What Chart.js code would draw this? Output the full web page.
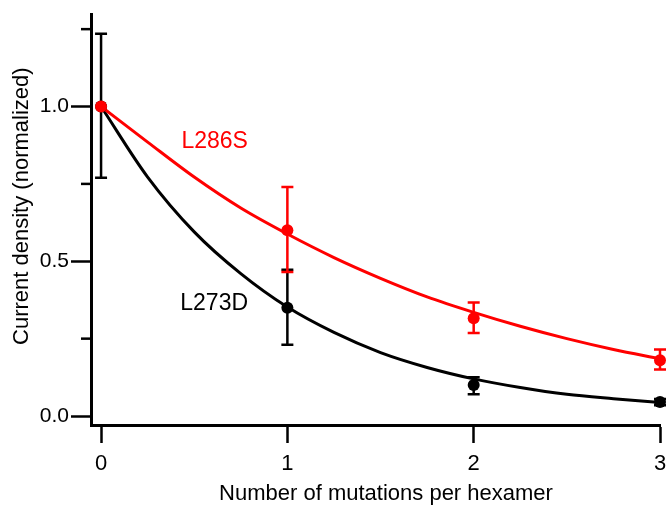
<!DOCTYPE html>
<html>
<head>
<meta charset="utf-8">
<script src="https://cdn.jsdelivr.net/npm/chart.js@4.4.1/dist/chart.umd.min.js"></script>
<style>
  html, body { margin: 0; padding: 0; background: #fff; overflow: hidden; }
</style>
</head>
<body>
<canvas id="chart" width="690" height="508"></canvas>
<script>
const mutations = [0, 1, 2, 3];
const l273dMean = [1.0, 0.35, 0.10, 0.045];
const l273dLow = [0.77, 0.23, 0.07, 0.035];
const l273dHigh = [1.235, 0.473, 0.125, 0.055];
const l286sMean = [1.0, 0.60, 0.316, 0.18];
const l286sLow = [1.0, 0.465, 0.268, 0.15];
const l286sHigh = [1.0, 0.74, 0.367, 0.215];

// fitted curves
const fitX = [0, 0.25, 0.5, 0.75, 1, 1.25, 1.5, 1.75, 2, 2.25, 2.5, 2.75, 3];
const l273dFit = [1, 0.772, 0.595, 0.46, 0.352, 0.27, 0.205, 0.157, 0.12, 0.092, 0.07, 0.056, 0.044];
const l286sFit = [1, 0.885, 0.772, 0.672, 0.588, 0.512, 0.445, 0.385, 0.335, 0.29, 0.25, 0.215, 0.185];

const xTicks = [0, 1, 2, 3];
const yMajorTicks = [0, 0.5, 1.0];
const yMinorTicks = [0.25, 0.75, 1.25];

const RED = '#ff0000';
const BLACK = '#000000';
const FONT = "'Liberation Sans', Arial, Helvetica, sans-serif";

function toPoints(xs, ys) {
  return xs.map((x, i) => ({ x: x, y: ys[i] }));
}

const extras = {
  id: 'extras',
  beforeDatasetsDraw(chart) {
    const { ctx, scales: { x, y } } = chart;
    ctx.save();
    ctx.lineWidth = 2.5;
    const bars = [
      { color: BLACK, low: l273dLow, high: l273dHigh },
      { color: RED, low: l286sLow, high: l286sHigh }
    ];
    for (const b of bars) {
      ctx.strokeStyle = b.color;
      mutations.forEach((m, i) => {
        if (b.high[i] - b.low[i] < 0.001) return;
        const px = x.getPixelForValue(m);
        const top = y.getPixelForValue(b.high[i]);
        const bot = y.getPixelForValue(b.low[i]);
        ctx.beginPath();
        ctx.moveTo(px, top); ctx.lineTo(px, bot);
        ctx.moveTo(px - 6, top); ctx.lineTo(px + 6, top);
        ctx.moveTo(px - 6, bot); ctx.lineTo(px + 6, bot);
        ctx.stroke();
      });
    }
    ctx.restore();
  },
  afterDraw(chart) {
    const { ctx, scales: { x, y } } = chart;
    ctx.save();
    // minor ticks on the y axis
    ctx.strokeStyle = BLACK;
    ctx.lineWidth = 2.5;
    for (const v of yMinorTicks) {
      const py = y.getPixelForValue(v);
      ctx.beginPath();
      ctx.moveTo(chart.chartArea.left - 10, py);
      ctx.lineTo(chart.chartArea.left, py);
      ctx.stroke();
    }
    ctx.textAlign = 'center';
    ctx.textBaseline = 'middle';
    ctx.font = '23px ' + FONT;
    ctx.fillStyle = RED;
    ctx.fillText('L286S', x.getPixelForValue(0.61), y.getPixelForValue(0.888));
    ctx.fillStyle = BLACK;
    ctx.fillText('L273D', x.getPixelForValue(0.607), y.getPixelForValue(0.364));

    // axis titles
    ctx.font = '22px ' + FONT;
    ctx.fillText('Number of mutations per hexamer', 386, 494);
    ctx.translate(22, y.getPixelForValue(0.678));
    ctx.rotate(-Math.PI / 2);
    ctx.fillText('Current density (normalized)', 0, 0);
    ctx.restore();
  }
};

new Chart(document.getElementById('chart'), {
  type: 'scatter',
  data: {
    datasets: [
      {
        label: 'L286S',
        data: toPoints(mutations, l286sMean),
        showLine: false,
        pointRadius: 6,
        pointBackgroundColor: RED,
        pointBorderWidth: 0,
        clip: false
      },
      {
        label: 'L273D',
        data: toPoints(mutations, l273dMean),
        showLine: false,
        pointRadius: 6,
        pointBackgroundColor: BLACK,
        pointBorderWidth: 0,
        clip: false
      },
      {
        label: 'L286S fit',
        data: toPoints(fitX, l286sFit),
        showLine: true,
        borderColor: RED,
        borderWidth: 3,
        pointRadius: 0,
        cubicInterpolationMode: 'monotone',
        clip: false
      },
      {
        label: 'L273D fit',
        data: toPoints(fitX, l273dFit),
        showLine: true,
        borderColor: BLACK,
        borderWidth: 3,
        pointRadius: 0,
        cubicInterpolationMode: 'monotone',
        clip: false
      }
    ]
  },
  options: {
    responsive: false,
    animation: false,
    layout: { padding: { top: 10, right: 30, left: 0, bottom: 0 } },
    plugins: {
      legend: { display: false },
      tooltip: { enabled: false }
    },
    scales: {
      x: {
        type: 'linear',
        min: -0.054,
        max: 3,
        afterBuildTicks: s => { s.ticks = xTicks.map(v => ({ value: v })); },
        afterFit: s => { s.height = 83; },
        ticks: {
          callback: v => String(v),
          color: BLACK,
          font: { family: FONT, size: 22 },
          padding: 8,
          maxRotation: 0
        },
        grid: {
          drawOnChartArea: false,
          drawTicks: true,
          tickLength: 18,
          tickWidth: 2.5,
          tickColor: BLACK
        },
        border: { display: true, color: BLACK, width: 3 }
      },
      y: {
        type: 'linear',
        min: -0.029,
        max: 1.297,
        afterBuildTicks: s => { s.ticks = yMajorTicks.map(v => ({ value: v })); },
        afterFit: s => { s.width = 91; },
        ticks: {
          callback: v => v.toFixed(1),
          color: BLACK,
          font: { family: FONT, size: 21 },
          padding: 2
        },
        grid: {
          drawOnChartArea: false,
          drawTicks: true,
          tickLength: 20,
          tickWidth: 2.5,
          tickColor: BLACK
        },
        border: { display: true, color: BLACK, width: 3 }
      }
    }
  },
  plugins: [extras]
});
</script>
</body>
</html>
